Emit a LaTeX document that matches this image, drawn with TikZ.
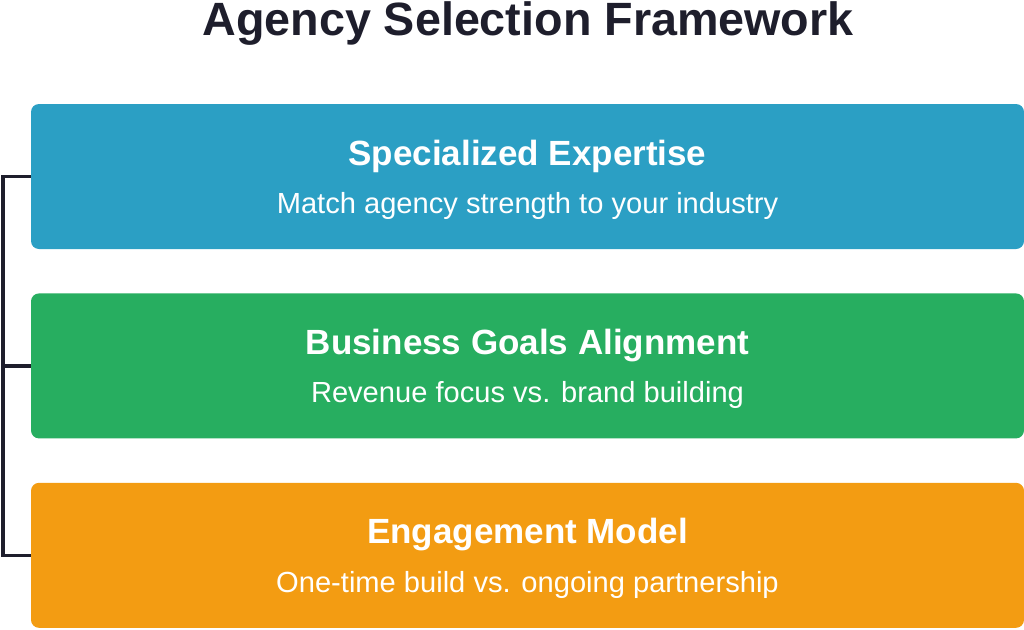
\documentclass[tikz,border=0pt]{standalone}
\usepackage{fontspec}
\setmainfont{Liberation Sans}
\usepackage{xcolor}
\usetikzlibrary{calc,positioning}

\definecolor{inkdark}{HTML}{1E1E2C}
\definecolor{boxblue}{HTML}{2B9FC4}
\definecolor{boxgreen}{HTML}{27AE60}
\definecolor{boxorange}{HTML}{F39C12}

\begin{document}
\begin{tikzpicture}[x=1pt,y=-1pt,
  block/.style={rounded corners=8pt,minimum width=993pt,minimum height=145pt,inner sep=0pt,draw=none},
  head/.style={anchor=base,text=white,font=\bfseries\fontsize{35}{40}\selectfont},
  sub/.style={anchor=base,text=white,font=\fontsize{29.1}{34}\selectfont},
  bracket/.style={draw=inkdark,line width=3.5pt,line join=miter}]

\useasboundingbox (0,0) rectangle (1024,629);

% Title
\node[anchor=base,text=inkdark,font=\bfseries\fontsize{46.7}{52}\selectfont] (title) at (528,35) {Agency Selection Framework};

% Boxes
\node[block,fill=boxblue] (spec) at (527.5,176.5) {};
\node[block,fill=boxgreen,below=44pt of spec] (goals) {};
\node[block,fill=boxorange,below=44pt of goals] (engage) {};

% Box texts
\node[head] (spec-head) at ($(spec.center)+(0,-11.5)$) {Specialized Expertise};
\node[sub] (spec-sub) at ($(spec.center)+(0,37)$) {Match agency strength to your industry};
\node[head] (goals-head) at ($(goals.center)+(0,-11.5)$) {Business Goals Alignment};
\node[sub] (goals-sub) at ($(goals.center)+(0,37)$) {Revenue focus vs. brand building};
\node[head] (engage-head) at ($(engage.center)+(0,-11.5)$) {Engagement Model};
\node[sub] (engage-sub) at ($(engage.center)+(0,37)$) {One-time build vs. ongoing partnership};

% Bracket on the left
\coordinate (btop) at (spec.west -| 3,0);
\coordinate (bmid) at (goals.west -| 3,0);
\coordinate (bbot) at (engage.west -| 3,0);
\draw[bracket] (spec.west) -- (btop) -- (bbot) -- (engage.west);
\draw[bracket] (bmid) -- (goals.west);

\end{tikzpicture}
\end{document}
